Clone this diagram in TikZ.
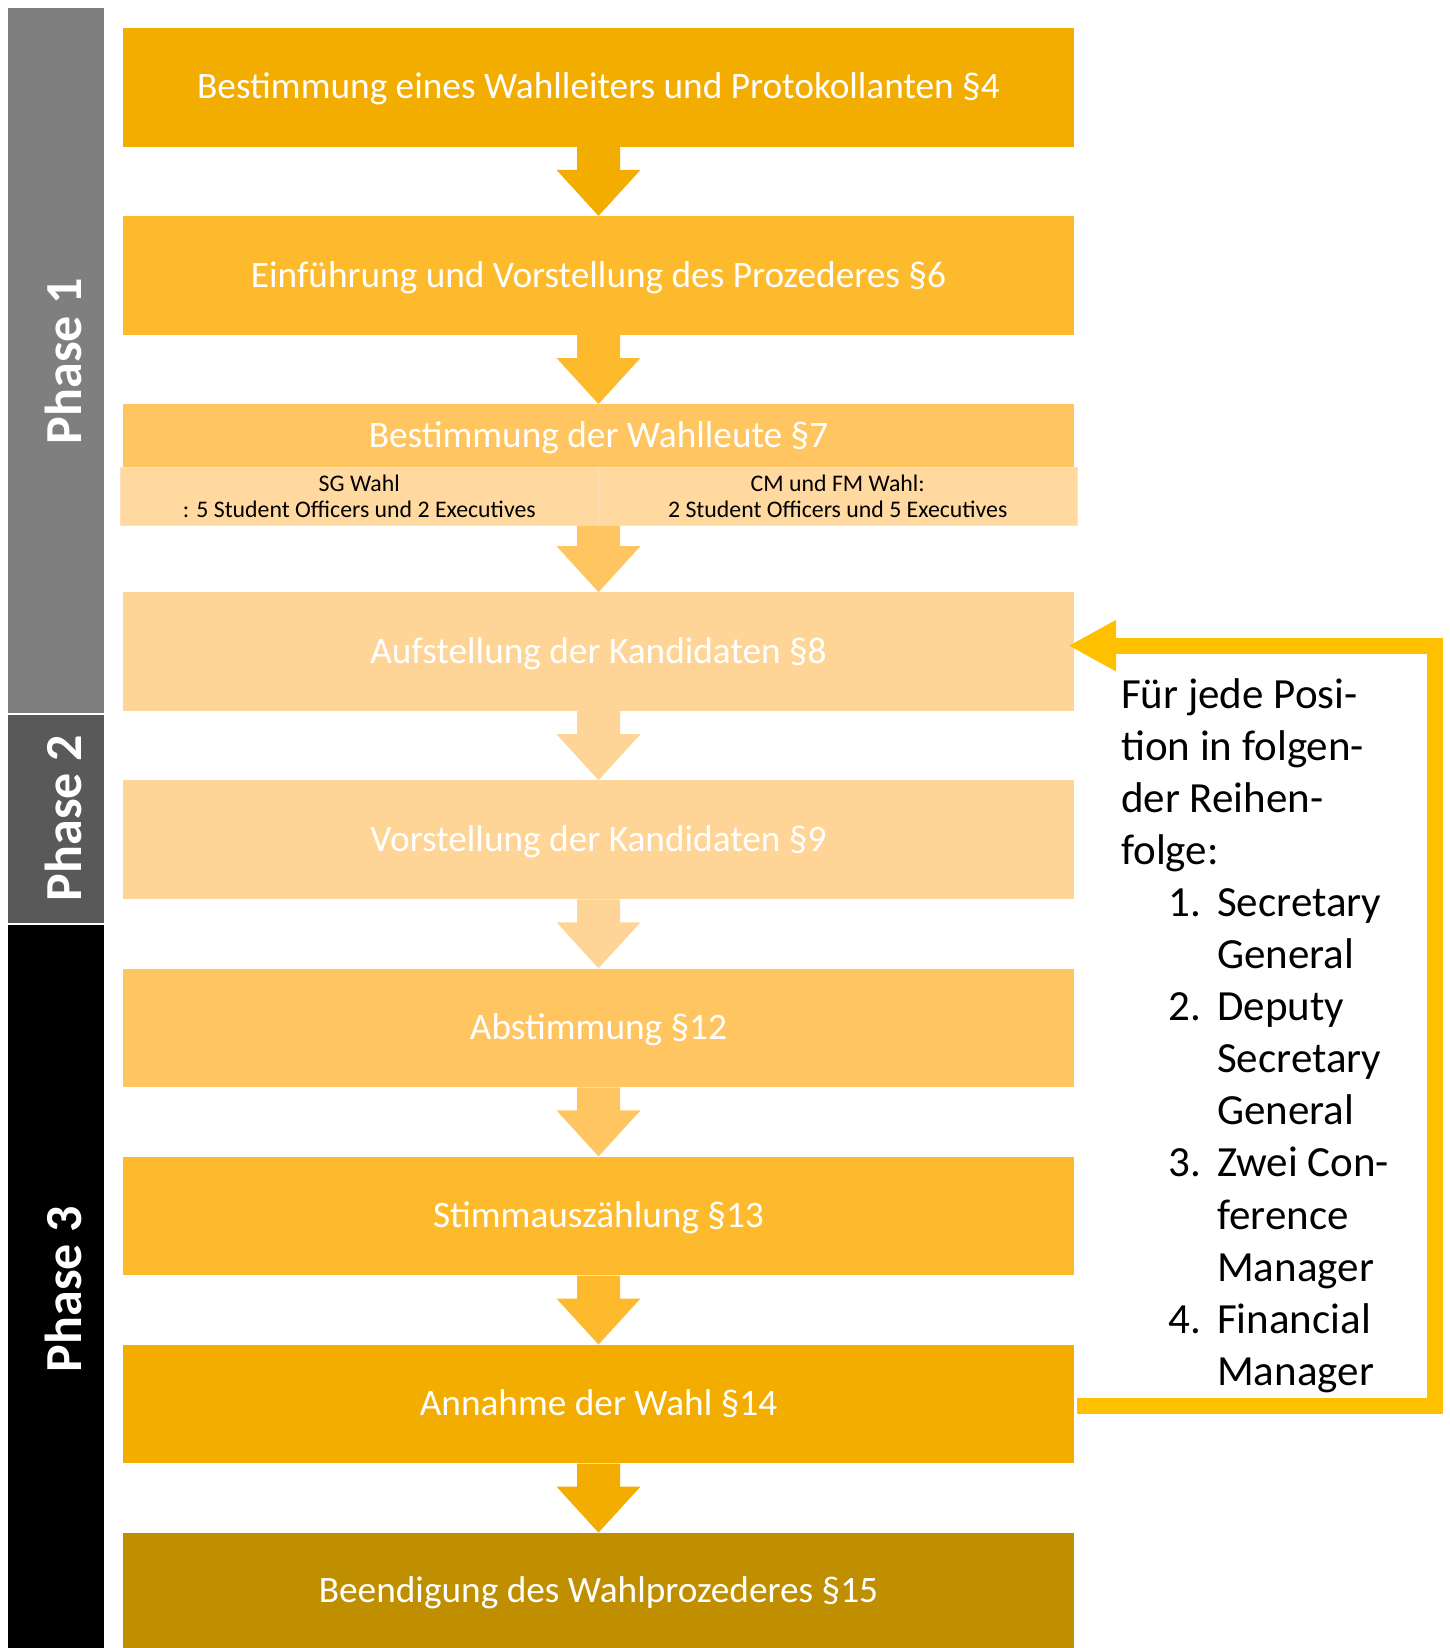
\documentclass[tikz,border=0pt]{standalone}
\usepackage{fontspec}
\setmainfont{Carlito}
\usetikzlibrary{calc,arrows.meta}
\definecolor{cA}{HTML}{F2AD00}
\definecolor{cB}{HTML}{FCBA2C}
\definecolor{cC}{HTML}{FFC561}
\definecolor{cD}{HTML}{FED597}
\definecolor{cSub}{HTML}{FFD9A0}
\definecolor{cSubLine}{HTML}{FFE2B6}
\definecolor{cE}{HTML}{BF8F00}
\definecolor{cLoop}{HTML}{FFC000}
\definecolor{ph1}{HTML}{7F7F7F}
\definecolor{ph2}{HTML}{595959}
\newcommand\blkarrow[3]{%
  \fill[#1] ($(#2.south)+(-21.5,0)$) -- ($(#2.south)+(21.5,0)$) -- ($(#3.north)+(21.5,-46)$) -- ($(#3.north)+(42,-46)$) -- (#3.north) -- ($(#3.north)+(-42,-46)$) -- ($(#3.north)+(-21.5,-46)$) -- cycle;}
\begin{document}
\begin{tikzpicture}[x=1pt,y=-1pt,
  box/.style={rectangle, inner sep=0pt, minimum width=951pt, minimum height=118.7pt, text=white, text height=30pt, text depth=6.8pt, font=\fontsize{37.3}{44}\selectfont},
  phasebar/.style={rectangle, inner sep=0pt, minimum width=96pt},
  phaselabel/.style={rotate=90, inner sep=0pt, text=white, font=\bfseries\fontsize{52}{60}\selectfont},
  subcell/.style={rectangle, inner sep=0pt, minimum width=478.5pt, minimum height=57.8pt, fill=cSub, draw=cSubLine, line width=1pt, align=center, font=\fontsize{23.8}{26}\selectfont},
  loopline/.style={draw=cLoop, line width=16pt, line join=miter, -{Triangle[length=48pt,width=48pt]}}
]
\useasboundingbox[fill=white] (0,0) rectangle (1449,1648);
% phase bars
\node[phasebar, fill=ph1, minimum height=705pt] (p1) at (56,360.5) {};
\node[phasebar, fill=ph2, minimum height=208pt] (p2) at (56,819) {};
\node[phasebar, fill=black, minimum height=723pt] (p3) at (56,1286.5) {};
\node[phaselabel] (l1) at (63.4,361) {Phase 1};
\node[phaselabel] (l2) at (63.4,818) {Phase 2};
\node[phaselabel] (l3) at (63.4,1289) {Phase 3};
% boxes
\node[box, fill=cA] (b1) at (598.5,87.35) {Bestimmung eines Wahlleiters und Protokollanten §4};
\node[box, fill=cB] (b2) at (598.5,275.45) {Einführung und Vorstellung des Prozederes §6};
\node[box, fill=cC, minimum height=63.4pt] (b3) at (598.5,435.9) {Bestimmung der Wahlleute §7};
\node[rectangle, inner sep=0pt, minimum width=957pt, minimum height=57.8pt, fill=cSub] (b3sub) at (598.5,496.5) {};
\node[subcell] (s1) at (359.25,496.5) {SG Wahl\\: 5 Student Officers und 2 Executives};
\node[subcell] (s2) at (837.75,496.5) {CM und FM Wahl:\\2 Student Officers und 5 Executives};
\node[box, fill=cD] (b4) at (598.5,651.65) {Aufstellung der Kandidaten §8};
\node[box, fill=cD] (b5) at (598.5,839.75) {Vorstellung der Kandidaten §9};
\node[box, fill=cC] (b6) at (598.5,1027.85) {Abstimmung §12};
\node[box, fill=cB] (b7) at (598.5,1215.95) {Stimmauszählung §13};
\node[box, fill=cA] (b8) at (598.5,1404.05) {Annahme der Wahl §14};
\node[box, fill=cE, minimum height=115.2pt] (b9) at (598.5,1590.4) {Beendigung des Wahlprozederes §15};
% block arrows
\blkarrow{cA}{b1}{b2}
\blkarrow{cB}{b2}{b3}
\blkarrow{cC}{b3sub}{b4}
\blkarrow{cD}{b4}{b5}
\blkarrow{cD}{b5}{b6}
\blkarrow{cC}{b6}{b7}
\blkarrow{cB}{b7}{b8}
\blkarrow{cA}{b8}{b9}
% loop back
\draw[loopline, shorten <=3pt, shorten >=-6pt] ([yshift=-2pt]b8.east) -- ++(361,0) |- ([yshift=6pt]b4.east);
% note
\node[anchor=base west, inner sep=0pt] (note) at (1121,708) {\parbox[t]{320pt}{\fontsize{43}{52.1}\selectfont
Für jede Posi-\\
tion in folgen-\\
der Reihen-\\
folge:\\
\hspace*{47pt}\makebox[49pt][l]{1.}Secretary\\
\hspace*{96pt}General\\
\hspace*{47pt}\makebox[49pt][l]{2.}Deputy\\
\hspace*{96pt}Secretary\\
\hspace*{96pt}General\\
\hspace*{47pt}\makebox[49pt][l]{3.}Zwei Con-\\
\hspace*{96pt}ference\\
\hspace*{96pt}Manager\\
\hspace*{47pt}\makebox[49pt][l]{4.}Financial\\
\hspace*{96pt}Manager}};
\end{tikzpicture}
\end{document}
